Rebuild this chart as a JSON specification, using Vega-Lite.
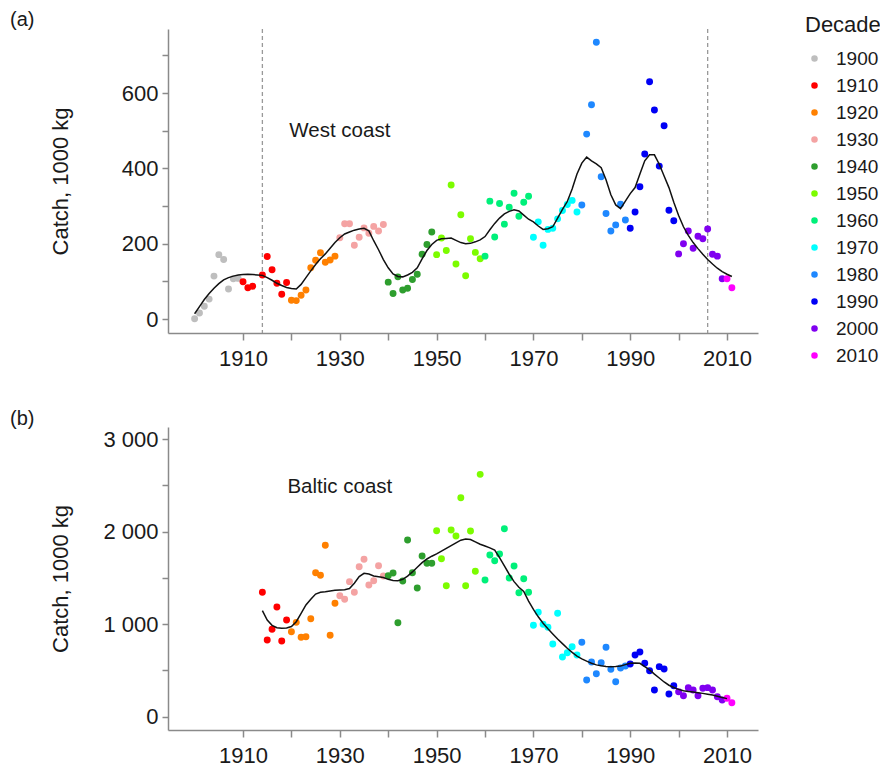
{
  "$schema": "https://vega.github.io/schema/vega-lite/v6.json",
  "background": "white",
  "padding": {"left": 10, "top": 10, "right": 0, "bottom": 0},
  "config": {
    "font": "Liberation Sans",
    "view": {"stroke": null},
    "axis": {
      "grid": false,
      "labelFont": "Liberation Sans",
      "labelFontSize": 22,
      "labelColor": "#1a1a1a",
      "titleFont": "Liberation Sans",
      "titleFontSize": 22,
      "titleFontWeight": "normal",
      "titleColor": "#1a1a1a",
      "domainColor": "#8a8a8a",
      "domainWidth": 1.5,
      "tickColor": "#8a8a8a",
      "tickWidth": 1.5,
      "tickSize": 7,
      "labelOverlap": false
    },
    "legend": {
      "labelFont": "Liberation Sans",
      "labelFontSize": 19,
      "labelColor": "#1a1a1a",
      "titleFont": "Liberation Sans",
      "titleFontSize": 22,
      "titleFontWeight": "normal",
      "titleColor": "#1a1a1a"
    }
  },
  "datasets": {
    "west": [
      {"year": 1900, "catch": 1, "decade": "1900"}, {"year": 1901, "catch": 16, "decade": "1900"}, {"year": 1902, "catch": 34, "decade": "1900"}, {"year": 1903, "catch": 53, "decade": "1900"}, {"year": 1904, "catch": 114, "decade": "1900"}, {"year": 1905, "catch": 171, "decade": "1900"}, {"year": 1906, "catch": 158, "decade": "1900"}, {"year": 1907, "catch": 80, "decade": "1900"}, {"year": 1908, "catch": 107, "decade": "1900"}, {"year": 1909, "catch": 108, "decade": "1900"},
      {"year": 1910, "catch": 99, "decade": "1910"}, {"year": 1911, "catch": 83, "decade": "1910"}, {"year": 1912, "catch": 87, "decade": "1910"}, {"year": 1914, "catch": 117, "decade": "1910"}, {"year": 1915, "catch": 166, "decade": "1910"}, {"year": 1916, "catch": 131, "decade": "1910"}, {"year": 1917, "catch": 95, "decade": "1910"}, {"year": 1918, "catch": 66, "decade": "1910"}, {"year": 1919, "catch": 97, "decade": "1910"},
      {"year": 1920, "catch": 50, "decade": "1920"}, {"year": 1921, "catch": 49, "decade": "1920"}, {"year": 1922, "catch": 63, "decade": "1920"}, {"year": 1923, "catch": 77, "decade": "1920"}, {"year": 1924, "catch": 136, "decade": "1920"}, {"year": 1925, "catch": 156, "decade": "1920"}, {"year": 1926, "catch": 176, "decade": "1920"}, {"year": 1927, "catch": 151, "decade": "1920"}, {"year": 1928, "catch": 157, "decade": "1920"}, {"year": 1929, "catch": 167, "decade": "1920"},
      {"year": 1930, "catch": 216, "decade": "1930"}, {"year": 1931, "catch": 253, "decade": "1930"}, {"year": 1932, "catch": 253, "decade": "1930"}, {"year": 1933, "catch": 196, "decade": "1930"}, {"year": 1934, "catch": 217, "decade": "1930"}, {"year": 1935, "catch": 242, "decade": "1930"}, {"year": 1936, "catch": 228, "decade": "1930"}, {"year": 1937, "catch": 246, "decade": "1930"}, {"year": 1938, "catch": 234, "decade": "1930"}, {"year": 1939, "catch": 251, "decade": "1930"},
      {"year": 1940, "catch": 98, "decade": "1940"}, {"year": 1941, "catch": 68, "decade": "1940"}, {"year": 1942, "catch": 112, "decade": "1940"}, {"year": 1943, "catch": 77, "decade": "1940"}, {"year": 1944, "catch": 82, "decade": "1940"}, {"year": 1945, "catch": 105, "decade": "1940"}, {"year": 1946, "catch": 119, "decade": "1940"}, {"year": 1947, "catch": 172, "decade": "1940"}, {"year": 1948, "catch": 198, "decade": "1940"}, {"year": 1949, "catch": 231, "decade": "1940"},
      {"year": 1950, "catch": 171, "decade": "1950"}, {"year": 1951, "catch": 215, "decade": "1950"}, {"year": 1952, "catch": 182, "decade": "1950"}, {"year": 1953, "catch": 356, "decade": "1950"}, {"year": 1954, "catch": 146, "decade": "1950"}, {"year": 1955, "catch": 277, "decade": "1950"}, {"year": 1956, "catch": 115, "decade": "1950"}, {"year": 1957, "catch": 213, "decade": "1950"}, {"year": 1958, "catch": 177, "decade": "1950"}, {"year": 1959, "catch": 160, "decade": "1950"},
      {"year": 1960, "catch": 167, "decade": "1960"}, {"year": 1961, "catch": 313, "decade": "1960"}, {"year": 1962, "catch": 218, "decade": "1960"}, {"year": 1963, "catch": 307, "decade": "1960"}, {"year": 1964, "catch": 252, "decade": "1960"}, {"year": 1965, "catch": 297, "decade": "1960"}, {"year": 1966, "catch": 334, "decade": "1960"}, {"year": 1967, "catch": 273, "decade": "1960"}, {"year": 1968, "catch": 310, "decade": "1960"}, {"year": 1969, "catch": 326, "decade": "1960"},
      {"year": 1970, "catch": 217, "decade": "1970"}, {"year": 1971, "catch": 258, "decade": "1970"}, {"year": 1972, "catch": 196, "decade": "1970"}, {"year": 1973, "catch": 238, "decade": "1970"}, {"year": 1974, "catch": 241, "decade": "1970"}, {"year": 1975, "catch": 266, "decade": "1970"}, {"year": 1976, "catch": 288, "decade": "1970"}, {"year": 1977, "catch": 304, "decade": "1970"}, {"year": 1978, "catch": 315, "decade": "1970"}, {"year": 1979, "catch": 284, "decade": "1970"},
      {"year": 1980, "catch": 303, "decade": "1980"}, {"year": 1981, "catch": 491, "decade": "1980"}, {"year": 1982, "catch": 569, "decade": "1980"}, {"year": 1983, "catch": 735, "decade": "1980"}, {"year": 1984, "catch": 378, "decade": "1980"}, {"year": 1985, "catch": 280, "decade": "1980"}, {"year": 1986, "catch": 234, "decade": "1980"}, {"year": 1987, "catch": 250, "decade": "1980"}, {"year": 1988, "catch": 305, "decade": "1980"}, {"year": 1989, "catch": 263, "decade": "1980"},
      {"year": 1990, "catch": 241, "decade": "1990"}, {"year": 1991, "catch": 284, "decade": "1990"}, {"year": 1992, "catch": 351, "decade": "1990"}, {"year": 1993, "catch": 438, "decade": "1990"}, {"year": 1994, "catch": 630, "decade": "1990"}, {"year": 1995, "catch": 555, "decade": "1990"}, {"year": 1996, "catch": 406, "decade": "1990"}, {"year": 1997, "catch": 513, "decade": "1990"}, {"year": 1998, "catch": 289, "decade": "1990"}, {"year": 1999, "catch": 261, "decade": "1990"},
      {"year": 2000, "catch": 173, "decade": "2000"}, {"year": 2001, "catch": 200, "decade": "2000"}, {"year": 2002, "catch": 234, "decade": "2000"}, {"year": 2003, "catch": 188, "decade": "2000"}, {"year": 2004, "catch": 220, "decade": "2000"}, {"year": 2005, "catch": 213, "decade": "2000"}, {"year": 2006, "catch": 239, "decade": "2000"}, {"year": 2007, "catch": 172, "decade": "2000"}, {"year": 2008, "catch": 167, "decade": "2000"}, {"year": 2009, "catch": 107, "decade": "2000"},
      {"year": 2010, "catch": 107, "decade": "2010"}, {"year": 2011, "catch": 83, "decade": "2010"}
    ],
    "westSmooth": [
      {"year": 1900, "fit": 14}, {"year": 1901, "fit": 33}, {"year": 1902, "fit": 52}, {"year": 1903, "fit": 68}, {"year": 1904, "fit": 82}, {"year": 1905, "fit": 94}, {"year": 1906, "fit": 104}, {"year": 1907, "fit": 110}, {"year": 1908, "fit": 114}, {"year": 1909, "fit": 117},
      {"year": 1910, "fit": 118}, {"year": 1911, "fit": 119}, {"year": 1912, "fit": 118}, {"year": 1913, "fit": 117}, {"year": 1914, "fit": 116}, {"year": 1915, "fit": 110}, {"year": 1916, "fit": 103}, {"year": 1917, "fit": 95}, {"year": 1918, "fit": 89}, {"year": 1919, "fit": 84},
      {"year": 1920, "fit": 81}, {"year": 1921, "fit": 80}, {"year": 1922, "fit": 92}, {"year": 1923, "fit": 110}, {"year": 1924, "fit": 128}, {"year": 1925, "fit": 145}, {"year": 1926, "fit": 160}, {"year": 1927, "fit": 173}, {"year": 1928, "fit": 188}, {"year": 1929, "fit": 203},
      {"year": 1930, "fit": 216}, {"year": 1931, "fit": 226}, {"year": 1932, "fit": 231}, {"year": 1933, "fit": 236}, {"year": 1934, "fit": 239}, {"year": 1935, "fit": 241}, {"year": 1936, "fit": 234}, {"year": 1937, "fit": 208}, {"year": 1938, "fit": 184}, {"year": 1939, "fit": 158},
      {"year": 1940, "fit": 136}, {"year": 1941, "fit": 120}, {"year": 1942, "fit": 113}, {"year": 1943, "fit": 112}, {"year": 1944, "fit": 117}, {"year": 1945, "fit": 124}, {"year": 1946, "fit": 136}, {"year": 1947, "fit": 160}, {"year": 1948, "fit": 182}, {"year": 1949, "fit": 198},
      {"year": 1950, "fit": 209}, {"year": 1951, "fit": 213}, {"year": 1952, "fit": 214}, {"year": 1953, "fit": 215}, {"year": 1954, "fit": 209}, {"year": 1955, "fit": 203}, {"year": 1956, "fit": 200}, {"year": 1957, "fit": 201}, {"year": 1958, "fit": 205}, {"year": 1959, "fit": 210},
      {"year": 1960, "fit": 219}, {"year": 1961, "fit": 237}, {"year": 1962, "fit": 254}, {"year": 1963, "fit": 268}, {"year": 1964, "fit": 279}, {"year": 1965, "fit": 286}, {"year": 1966, "fit": 290}, {"year": 1967, "fit": 287}, {"year": 1968, "fit": 276}, {"year": 1969, "fit": 265},
      {"year": 1970, "fit": 258}, {"year": 1971, "fit": 247}, {"year": 1972, "fit": 238}, {"year": 1973, "fit": 240}, {"year": 1974, "fit": 245}, {"year": 1975, "fit": 268}, {"year": 1976, "fit": 291}, {"year": 1977, "fit": 312}, {"year": 1978, "fit": 345}, {"year": 1979, "fit": 385},
      {"year": 1980, "fit": 414}, {"year": 1981, "fit": 430}, {"year": 1982, "fit": 420}, {"year": 1983, "fit": 412}, {"year": 1984, "fit": 402}, {"year": 1985, "fit": 370}, {"year": 1986, "fit": 330}, {"year": 1987, "fit": 303}, {"year": 1988, "fit": 293}, {"year": 1989, "fit": 313},
      {"year": 1990, "fit": 333}, {"year": 1991, "fit": 349}, {"year": 1992, "fit": 385}, {"year": 1993, "fit": 420}, {"year": 1994, "fit": 436}, {"year": 1995, "fit": 436}, {"year": 1996, "fit": 411}, {"year": 1997, "fit": 380}, {"year": 1998, "fit": 349}, {"year": 1999, "fit": 310},
      {"year": 2000, "fit": 275}, {"year": 2001, "fit": 245}, {"year": 2002, "fit": 222}, {"year": 2003, "fit": 203}, {"year": 2004, "fit": 187}, {"year": 2005, "fit": 172}, {"year": 2006, "fit": 158}, {"year": 2007, "fit": 146}, {"year": 2008, "fit": 135}, {"year": 2009, "fit": 126},
      {"year": 2010, "fit": 119}, {"year": 2011, "fit": 113}
    ],
    "westMarks": [{"year": 1914}, {"year": 2006}],
    "westLabel": [{"year": 1930, "catch": 500, "label": "West coast"}],
    "baltic": [
      {"year": 1914, "catch": 1345, "decade": "1910"}, {"year": 1915, "catch": 829, "decade": "1910"}, {"year": 1916, "catch": 945, "decade": "1910"}, {"year": 1917, "catch": 1186, "decade": "1910"}, {"year": 1918, "catch": 818, "decade": "1910"}, {"year": 1919, "catch": 1045, "decade": "1910"},
      {"year": 1920, "catch": 919, "decade": "1920"}, {"year": 1921, "catch": 1020, "decade": "1920"}, {"year": 1922, "catch": 858, "decade": "1920"}, {"year": 1923, "catch": 865, "decade": "1920"}, {"year": 1924, "catch": 1059, "decade": "1920"}, {"year": 1925, "catch": 1557, "decade": "1920"}, {"year": 1926, "catch": 1529, "decade": "1920"}, {"year": 1927, "catch": 1853, "decade": "1920"}, {"year": 1928, "catch": 880, "decade": "1920"}, {"year": 1929, "catch": 1226, "decade": "1920"},
      {"year": 1930, "catch": 1308, "decade": "1930"}, {"year": 1931, "catch": 1269, "decade": "1930"}, {"year": 1932, "catch": 1460, "decade": "1930"}, {"year": 1933, "catch": 1345, "decade": "1930"}, {"year": 1934, "catch": 1622, "decade": "1930"}, {"year": 1935, "catch": 1702, "decade": "1930"}, {"year": 1936, "catch": 1424, "decade": "1930"}, {"year": 1937, "catch": 1470, "decade": "1930"}, {"year": 1938, "catch": 1632, "decade": "1930"}, {"year": 1939, "catch": 1521, "decade": "1930"},
      {"year": 1940, "catch": 1524, "decade": "1940"}, {"year": 1941, "catch": 1553, "decade": "1940"}, {"year": 1942, "catch": 1016, "decade": "1940"}, {"year": 1943, "catch": 1467, "decade": "1940"}, {"year": 1944, "catch": 1910, "decade": "1940"}, {"year": 1945, "catch": 1557, "decade": "1940"}, {"year": 1946, "catch": 1391, "decade": "1940"}, {"year": 1947, "catch": 1737, "decade": "1940"}, {"year": 1948, "catch": 1658, "decade": "1940"}, {"year": 1949, "catch": 1658, "decade": "1940"},
      {"year": 1950, "catch": 2011, "decade": "1950"}, {"year": 1951, "catch": 1708, "decade": "1950"}, {"year": 1952, "catch": 1416, "decade": "1950"}, {"year": 1953, "catch": 2018, "decade": "1950"}, {"year": 1954, "catch": 1953, "decade": "1950"}, {"year": 1955, "catch": 2368, "decade": "1950"}, {"year": 1956, "catch": 1416, "decade": "1950"}, {"year": 1957, "catch": 2008, "decade": "1950"}, {"year": 1958, "catch": 1572, "decade": "1950"}, {"year": 1959, "catch": 2620, "decade": "1950"},
      {"year": 1960, "catch": 1478, "decade": "1960"}, {"year": 1961, "catch": 1748, "decade": "1960"}, {"year": 1962, "catch": 1686, "decade": "1960"}, {"year": 1963, "catch": 1759, "decade": "1960"}, {"year": 1964, "catch": 2032, "decade": "1960"}, {"year": 1965, "catch": 1499, "decade": "1960"}, {"year": 1966, "catch": 1629, "decade": "1960"}, {"year": 1967, "catch": 1340, "decade": "1960"}, {"year": 1968, "catch": 1492, "decade": "1960"}, {"year": 1969, "catch": 1345, "decade": "1960"},
      {"year": 1970, "catch": 988, "decade": "1970"}, {"year": 1971, "catch": 1129, "decade": "1970"}, {"year": 1972, "catch": 999, "decade": "1970"}, {"year": 1973, "catch": 966, "decade": "1970"}, {"year": 1974, "catch": 786, "decade": "1970"}, {"year": 1975, "catch": 1118, "decade": "1970"}, {"year": 1976, "catch": 645, "decade": "1970"}, {"year": 1977, "catch": 692, "decade": "1970"}, {"year": 1978, "catch": 757, "decade": "1970"}, {"year": 1979, "catch": 667, "decade": "1970"},
      {"year": 1980, "catch": 804, "decade": "1980"}, {"year": 1981, "catch": 397, "decade": "1980"}, {"year": 1982, "catch": 591, "decade": "1980"}, {"year": 1983, "catch": 465, "decade": "1980"}, {"year": 1984, "catch": 584, "decade": "1980"}, {"year": 1985, "catch": 750, "decade": "1980"}, {"year": 1986, "catch": 512, "decade": "1980"}, {"year": 1987, "catch": 378, "decade": "1980"}, {"year": 1988, "catch": 526, "decade": "1980"}, {"year": 1989, "catch": 548, "decade": "1980"},
      {"year": 1990, "catch": 570, "decade": "1990"}, {"year": 1991, "catch": 667, "decade": "1990"}, {"year": 1992, "catch": 699, "decade": "1990"}, {"year": 1993, "catch": 577, "decade": "1990"}, {"year": 1994, "catch": 497, "decade": "1990"}, {"year": 1995, "catch": 289, "decade": "1990"}, {"year": 1996, "catch": 541, "decade": "1990"}, {"year": 1997, "catch": 516, "decade": "1990"}, {"year": 1998, "catch": 245, "decade": "1990"}, {"year": 1999, "catch": 335, "decade": "1990"},
      {"year": 2000, "catch": 270, "decade": "2000"}, {"year": 2001, "catch": 227, "decade": "2000"}, {"year": 2002, "catch": 314, "decade": "2000"}, {"year": 2003, "catch": 289, "decade": "2000"}, {"year": 2004, "catch": 227, "decade": "2000"}, {"year": 2005, "catch": 307, "decade": "2000"}, {"year": 2006, "catch": 314, "decade": "2000"}, {"year": 2007, "catch": 289, "decade": "2000"}, {"year": 2008, "catch": 216, "decade": "2000"}, {"year": 2009, "catch": 180, "decade": "2000"},
      {"year": 2010, "catch": 199, "decade": "2010"}, {"year": 2011, "catch": 151, "decade": "2010"}
    ],
    "balticSmooth": [
      {"year": 1914, "fit": 1146}, {"year": 1915, "fit": 1045}, {"year": 1916, "fit": 988}, {"year": 1917, "fit": 962}, {"year": 1918, "fit": 955}, {"year": 1919, "fit": 959},
      {"year": 1920, "fit": 975}, {"year": 1921, "fit": 1027}, {"year": 1922, "fit": 1118}, {"year": 1923, "fit": 1208}, {"year": 1924, "fit": 1269}, {"year": 1925, "fit": 1326}, {"year": 1926, "fit": 1345}, {"year": 1927, "fit": 1351}, {"year": 1928, "fit": 1359}, {"year": 1929, "fit": 1366},
      {"year": 1930, "fit": 1370}, {"year": 1931, "fit": 1372}, {"year": 1932, "fit": 1385}, {"year": 1933, "fit": 1442}, {"year": 1934, "fit": 1514}, {"year": 1935, "fit": 1550}, {"year": 1936, "fit": 1543}, {"year": 1937, "fit": 1521}, {"year": 1938, "fit": 1514}, {"year": 1939, "fit": 1505},
      {"year": 1940, "fit": 1485}, {"year": 1941, "fit": 1472}, {"year": 1942, "fit": 1470}, {"year": 1943, "fit": 1485}, {"year": 1944, "fit": 1520}, {"year": 1945, "fit": 1565}, {"year": 1946, "fit": 1615}, {"year": 1947, "fit": 1665}, {"year": 1948, "fit": 1705}, {"year": 1949, "fit": 1735},
      {"year": 1950, "fit": 1760}, {"year": 1951, "fit": 1790}, {"year": 1952, "fit": 1820}, {"year": 1953, "fit": 1850}, {"year": 1954, "fit": 1880}, {"year": 1955, "fit": 1908}, {"year": 1956, "fit": 1920}, {"year": 1957, "fit": 1915}, {"year": 1958, "fit": 1890}, {"year": 1959, "fit": 1865},
      {"year": 1960, "fit": 1845}, {"year": 1961, "fit": 1825}, {"year": 1962, "fit": 1800}, {"year": 1963, "fit": 1720}, {"year": 1964, "fit": 1630}, {"year": 1965, "fit": 1540}, {"year": 1966, "fit": 1460}, {"year": 1967, "fit": 1400}, {"year": 1968, "fit": 1355}, {"year": 1969, "fit": 1250},
      {"year": 1970, "fit": 1160}, {"year": 1971, "fit": 1080}, {"year": 1972, "fit": 1010}, {"year": 1973, "fit": 950}, {"year": 1974, "fit": 895}, {"year": 1975, "fit": 840}, {"year": 1976, "fit": 790}, {"year": 1977, "fit": 740}, {"year": 1978, "fit": 695}, {"year": 1979, "fit": 655},
      {"year": 1980, "fit": 625}, {"year": 1981, "fit": 600}, {"year": 1982, "fit": 578}, {"year": 1983, "fit": 560}, {"year": 1984, "fit": 550}, {"year": 1985, "fit": 543}, {"year": 1986, "fit": 541}, {"year": 1987, "fit": 543}, {"year": 1988, "fit": 548}, {"year": 1989, "fit": 563},
      {"year": 1990, "fit": 577}, {"year": 1991, "fit": 580}, {"year": 1992, "fit": 577}, {"year": 1993, "fit": 540}, {"year": 1994, "fit": 505}, {"year": 1995, "fit": 460}, {"year": 1996, "fit": 418}, {"year": 1997, "fit": 375}, {"year": 1998, "fit": 340}, {"year": 1999, "fit": 315},
      {"year": 2000, "fit": 295}, {"year": 2001, "fit": 280}, {"year": 2002, "fit": 272}, {"year": 2003, "fit": 266}, {"year": 2004, "fit": 260}, {"year": 2005, "fit": 252}, {"year": 2006, "fit": 243}, {"year": 2007, "fit": 235}, {"year": 2008, "fit": 222}, {"year": 2009, "fit": 208}, {"year": 2010, "fit": 195}
    ],
    "balticLabel": [{"year": 1930, "catch": 2480, "label": "Baltic coast"}]
  },
  "vconcat": [
    {
      "width": 590,
      "height": 304,
      "title": {"text": "(a)", "anchor": "start", "frame": "group", "dx": -158, "dy": 20, "offset": 2, "baseline": "alphabetic", "fontSize": 20, "fontWeight": "normal", "font": "Liberation Sans", "color": "#1a1a1a"},
      "layer": [
        {
          "data": {"name": "westMarks"},
          "mark": {"type": "rule", "color": "#999999", "strokeDash": [4, 3], "strokeWidth": 1.3},
          "encoding": {"x": {"field": "year", "type": "quantitative", "scale": {"domain": [1894.5, 2016.4], "nice": false, "zero": false}}}
        },
        {
          "data": {"name": "west"},
          "mark": {"type": "circle", "size": 48, "opacity": 1},
          "encoding": {
            "x": {"field": "year", "type": "quantitative", "scale": {"domain": [1894.5, 2016.4], "nice": false, "zero": false},
              "axis": {"title": null, "values": [1910, 1920, 1930, 1940, 1950, 1960, 1970, 1980, 1990, 2000, 2010], "format": "d", "labelExpr": "datum.value % 20 == 10 ? datum.label : ''", "labelPadding": 8, "labelFlush": false}},
            "y": {"field": "catch", "type": "quantitative", "scale": {"domain": [-37, 770], "nice": false, "zero": false},
              "axis": {"title": "Catch, 1000 kg", "values": [0, 100, 200, 300, 400, 500, 600, 700], "labelExpr": "datum.value % 200 == 0 ? datum.label : ''", "labelPadding": 4, "tickSize": 6, "titleX": -101, "titleY": 152, "titleAngle": 270, "titleBaseline": "alphabetic", "titleAlign": "center"}},
            "color": {"field": "decade", "type": "nominal",
              "scale": {"domain": ["1900", "1910", "1920", "1930", "1940", "1950", "1960", "1970", "1980", "1990", "2000", "2010"],
                "range": ["#bebebe", "#ff0000", "#ff8000", "#f4a3a3", "#2e9e2e", "#7cfc00", "#00f07a", "#00ffff", "#1e88ff", "#0000f5", "#8000f0", "#ff00ff"]},
              "legend": {"title": "Decade", "orient": "none", "legendX": 637, "legendY": -14, "symbolType": "circle", "symbolSize": 42, "symbolStrokeWidth": 0, "rowPadding": 7, "labelOffset": 12, "titlePadding": 12}}
          }
        },
        {
          "data": {"name": "westSmooth"},
          "mark": {"type": "line", "color": "#111111", "strokeWidth": 1.5},
          "encoding": {
            "x": {"field": "year", "type": "quantitative"},
            "y": {"field": "fit", "type": "quantitative"}
          }
        },
        {
          "data": {"name": "westLabel"},
          "mark": {"type": "text", "fontSize": 20.5, "font": "Liberation Sans", "color": "#1a1a1a", "align": "center", "baseline": "middle"},
          "encoding": {
            "x": {"field": "year", "type": "quantitative"},
            "y": {"field": "catch", "type": "quantitative"},
            "text": {"field": "label"}
          }
        }
      ]
    },
    {
      "width": 590,
      "height": 303,
      "title": {"text": "(b)", "anchor": "start", "frame": "group", "dx": -158, "dy": 20, "offset": 2, "baseline": "alphabetic", "fontSize": 20, "fontWeight": "normal", "font": "Liberation Sans", "color": "#1a1a1a"},
      "layer": [
        {
          "data": {"name": "baltic"},
          "mark": {"type": "circle", "size": 48, "opacity": 1},
          "encoding": {
            "x": {"field": "year", "type": "quantitative", "scale": {"domain": [1894.5, 2016.4], "nice": false, "zero": false},
              "axis": {"title": null, "values": [1910, 1920, 1930, 1940, 1950, 1960, 1970, 1980, 1990, 2000, 2010], "format": "d", "labelExpr": "datum.value % 20 == 10 ? datum.label : ''", "labelPadding": 8, "labelFlush": false}},
            "y": {"field": "catch", "type": "quantitative", "scale": {"domain": [-144, 3132], "nice": false, "zero": false},
              "axis": {"title": "Catch, 1000 kg", "values": [0, 500, 1000, 1500, 2000, 2500, 3000], "labelExpr": "datum.value == 0 ? '0' : (datum.value % 1000 == 0 ? (datum.value / 1000) + ' 000' : '')", "labelPadding": 4, "tickSize": 6, "titleX": -101, "titleY": 151.5, "titleAngle": 270, "titleBaseline": "alphabetic", "titleAlign": "center"}},
            "color": {"field": "decade", "type": "nominal"}
          }
        },
        {
          "data": {"name": "balticSmooth"},
          "mark": {"type": "line", "color": "#111111", "strokeWidth": 1.5},
          "encoding": {
            "x": {"field": "year", "type": "quantitative"},
            "y": {"field": "fit", "type": "quantitative"}
          }
        },
        {
          "data": {"name": "balticLabel"},
          "mark": {"type": "text", "fontSize": 20.5, "font": "Liberation Sans", "color": "#1a1a1a", "align": "center", "baseline": "middle"},
          "encoding": {
            "x": {"field": "year", "type": "quantitative"},
            "y": {"field": "catch", "type": "quantitative"},
            "text": {"field": "label"}
          }
        }
      ]
    }
  ],
  "spacing": 40,
  "resolve": {"scale": {"color": "shared"}}
}
